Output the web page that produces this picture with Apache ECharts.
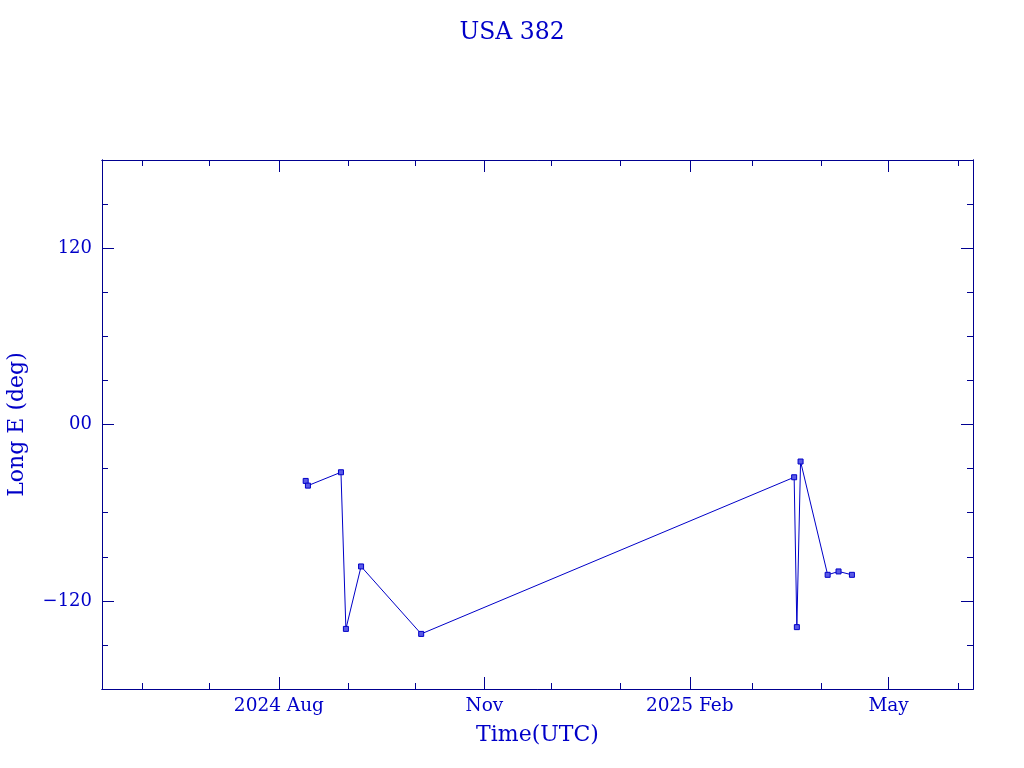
<!DOCTYPE html>
<html>
<head>
<meta charset="utf-8">
<script src="https://cdn.jsdelivr.net/npm/echarts@6/dist/echarts.min.js"></script>
<style>html,body{margin:0;padding:0;background:#fff}#c{width:1024px;height:768px}</style>
</head>
<body>
<div id="c"></div>
<script>
// ---- data ----
const obsTimes = [
  '2024-08-13T00:00Z','2024-08-14T00:00Z','2024-08-28T19:00Z','2024-08-31T00:00Z',
  '2024-09-06T19:00Z','2024-10-03T17:00Z','2025-03-19T17:00Z','2025-03-20T22:00Z',
  '2025-03-22T14:00Z','2025-04-03T17:00Z','2025-04-08T14:00Z','2025-04-14T14:00Z'
];
const longE = [-38.4, -41.6, -32.5, -139.1, -96.6, -142.5, -35.9, -137.9, -25.2, -102.3, -100.0, -102.3];

const xRange = ['2024-05-13T19:00Z', '2025-06-07T19:00Z'];
const monthTicks = [
  '2024-06-01','2024-07-01','2024-08-01','2024-09-01','2024-10-01','2024-11-01','2024-12-01',
  '2025-01-01','2025-02-01','2025-03-01','2025-04-01','2025-05-01','2025-06-01'
];
const majorTicks = ['2024-08-01','2024-11-01','2025-02-01','2025-05-01'];
const majorTickLabels = ['2024 Aug','Nov','2025 Feb','May'];
const yMinorTicks = [-150,-120,-90,-60,-30,0,30,60,90,120,150];
const yMajorTicks = [-120, 0, 120];
const yTickLabels = ['\u2212120', '00', '120'];

// ---- build ----
const ms = s => Date.parse(s.length === 10 ? s + 'T00:00Z' : s);
const seriesData = obsTimes.map((t, i) => [ms(t), longE[i]]);
const xMin = ms(xRange[0]), xMax = ms(xRange[1]);
const monthVals = monthTicks.map(ms);
const majorVals = majorTicks.map(ms);

const blue = '#0000c8';
const axisCol = '#000090';
const font = '"DejaVu Serif", "Liberation Serif", serif';

function xAx(pos, tickVals, len, labels) {
  return {
    type: 'value', position: pos, min: xMin, max: xMax, scale: true,
    axisLine: { show: true, onZero: false, lineStyle: { color: axisCol, width: 1 } },
    axisTick: { show: true, inside: true, length: len, customValues: tickVals, lineStyle: { color: axisCol, width: 1 } },
    axisLabel: labels ? {
      show: true, customValues: majorVals, color: blue, fontFamily: font, fontSize: 18.5, margin: 8,
      formatter: v => { const i = majorVals.indexOf(v); return i >= 0 ? majorTickLabels[i] : ''; }
    } : { show: false },
    splitLine: { show: false }
  };
}
function yAx(pos, tickVals, len, labels) {
  return {
    type: 'value', position: pos, min: -180, max: 180,
    axisLine: { show: true, onZero: false, lineStyle: { color: axisCol, width: 1 } },
    axisTick: { show: true, inside: true, length: len, customValues: tickVals, lineStyle: { color: axisCol, width: 1 } },
    axisLabel: labels ? {
      show: true, customValues: yMajorTicks, color: blue, fontFamily: font, fontSize: 18, margin: 10,
      formatter: v => { const i = yMajorTicks.indexOf(v); return i >= 0 ? yTickLabels[i] : ''; }
    } : { show: false },
    splitLine: { show: false }
  };
}

const xAxes = [
  xAx('bottom', monthVals, 6, false),
  xAx('bottom', majorVals, 12, true),
  xAx('top', monthVals, 6, false),
  xAx('top', majorVals, 12, false)
];
Object.assign(xAxes[1], { name: 'Time(UTC)', nameLocation: 'middle', nameGap: 35,
  nameTextStyle: { color: blue, fontFamily: font, fontSize: 22 } });

const yAxes = [
  yAx('left', yMinorTicks, 6, false),
  yAx('left', yMajorTicks, 12, true),
  yAx('right', yMinorTicks, 6, false),
  yAx('right', yMajorTicks, 12, false)
];
Object.assign(yAxes[1], { name: 'Long E (deg)', nameLocation: 'middle', nameGap: 74,
  nameTextStyle: { color: blue, fontFamily: font, fontSize: 22 } });

const chart = echarts.init(document.getElementById('c'), null, { renderer: 'canvas' });
chart.setOption({
  backgroundColor: '#fff',
  animation: false,
  title: { text: 'USA 382', left: 'center', top: 16,
    textStyle: { color: blue, fontFamily: font, fontSize: 23.5, fontWeight: 'normal' } },
  grid: { left: 102, right: 51, top: 160, bottom: 79, containLabel: false, outerBoundsMode: 'none' },
  xAxis: xAxes,
  yAxis: yAxes,
  series: [{
    type: 'line', xAxisIndex: 0, yAxisIndex: 0, data: seriesData,
    symbol: 'rect', symbolSize: 5, showAllSymbol: true,
    lineStyle: { color: blue, width: 1 },
    itemStyle: { color: '#5a5ae6', borderColor: blue, borderWidth: 1 }
  }]
});
</script>
</body>
</html>
